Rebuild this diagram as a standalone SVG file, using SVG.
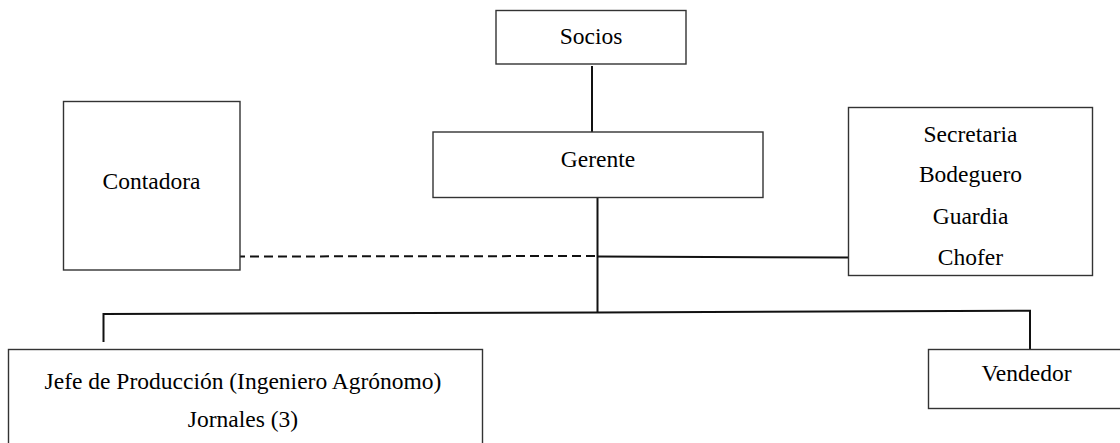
<svg xmlns="http://www.w3.org/2000/svg" width="1120" height="443" viewBox="0 0 1120 443">
  <style>
    .box { fill: #ffffff; stroke: #333333; stroke-width: 1.4; }
    .lbl { font-family: "Liberation Serif", "Times New Roman", serif; font-size: 23.5px; fill: #000000; text-anchor: middle; }
    .link { fill: none; stroke: #111111; stroke-width: 2; }
    .dash { fill: none; stroke: #111111; stroke-width: 2; stroke-dasharray: 9 5; }
  </style>
  <rect width="1120" height="443" fill="#ffffff"/>

  <!-- connectors -->
  <g id="connectors">
    <line class="link" x1="592" y1="66" x2="592" y2="132"/>
    <line class="link" x1="597.5" y1="198" x2="597.5" y2="313"/>
    <line class="link" x1="597.5" y1="256.5" x2="848.5" y2="257.5"/>
    <line class="dash" x1="236" y1="256.5" x2="597" y2="256"/>
    <polyline class="link" points="103.5,342 103.5,314 597.5,312.5 1030,310.8 1030,349"/>
  </g>

  <g id="socios">
    <rect class="box" x="496" y="10.5" width="190" height="53.5"/>
    <text class="lbl" x="591" y="43.5">Socios</text>
  </g>

  <g id="gerente">
    <rect class="box" x="433" y="132" width="330" height="65.5"/>
    <text class="lbl" x="598" y="167">Gerente</text>
  </g>

  <g id="contadora">
    <rect class="box" x="63.5" y="101.5" width="176.5" height="168.5"/>
    <text class="lbl" x="151.5" y="188.5">Contadora</text>
  </g>

  <g id="apoyo">
    <rect class="box" x="848.5" y="107.5" width="244" height="168"/>
    <text class="lbl" x="970.5" y="141.5">Secretaria</text>
    <text class="lbl" x="970.5" y="182">Bodeguero</text>
    <text class="lbl" x="970.5" y="223.5">Guardia</text>
    <text class="lbl" x="970.5" y="265">Chofer</text>
  </g>

  <g id="produccion">
    <rect class="box" x="8.5" y="349.5" width="474" height="100"/>
    <text class="lbl" x="243" y="388.5">Jefe de Producción (Ingeniero Agrónomo)</text>
    <text class="lbl" x="243" y="426.5">Jornales (3)</text>
  </g>

  <g id="vendedor">
    <rect class="box" x="928.5" y="349.5" width="200" height="59"/>
    <text class="lbl" x="1026.5" y="380.5">Vendedor</text>
  </g>
</svg>
